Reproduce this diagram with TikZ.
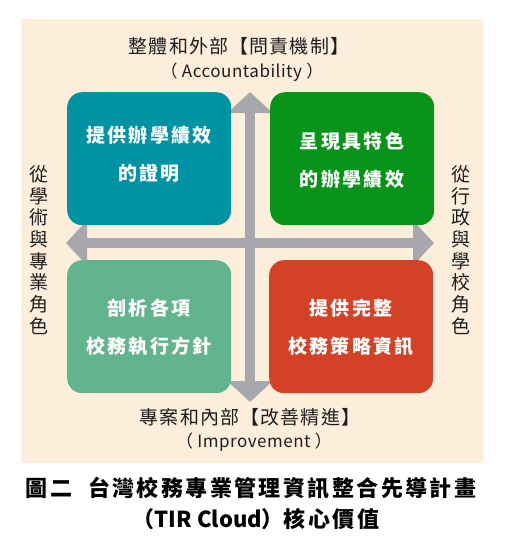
\documentclass[tikz,border=0pt]{standalone}
\usepackage{fontspec}
\setmainfont{Noto Sans CJK TC}
\newfontfamily\cjkb{Noto Sans CJK TC}[LetterSpace=12]
\newfontfamily\cjkl{Noto Sans CJK TC}[LetterSpace=6]
\newfontfamily\cjkc{Noto Sans CJK TC}[LetterSpace=11]
\newfontfamily\cjks{Noto Sans CJK TC}[LetterSpace=3]
\usetikzlibrary{arrows.meta}
\definecolor{bgpeach}{HTML}{FDEEDC}
\definecolor{arrgray}{HTML}{A7A8AC}
\definecolor{cteal}{HTML}{0093A3}
\definecolor{cgreen}{HTML}{079418}
\definecolor{cmint}{HTML}{62B48D}
\definecolor{cred}{HTML}{D34226}
\definecolor{txt}{HTML}{1E1E1E}
\begin{document}
\begin{tikzpicture}[x=1pt,y=-1pt,
  quad/.style={draw=none,rounded corners=15pt,inner sep=0pt,minimum width=164pt,minimum height=133pt,anchor=north west},
  qtext/.style={text=white,font=\cjkb\fontsize{19}{38}\selectfont\bfseries,align=center,inner sep=0pt},
  axis/.style={arrgray,line width=10pt,{Triangle[width=44pt,length=21pt]}-{Triangle[width=44pt,length=21pt]}},
  lab/.style={text=txt,font=\cjkl\fontsize{19}{22}\selectfont,align=center,inner sep=0pt},
  sublab/.style={text=txt,font=\cjks\fontsize{17}{20}\selectfont,inner sep=0pt},
  vlab/.style={text=txt,font=\fontsize{19}{21.7}\selectfont,align=center,inner sep=0pt},
  captext/.style={text=black,font=\cjkc\fontsize{22}{26}\selectfont\bfseries,inner sep=0pt}
]
\useasboundingbox (0,0) rectangle (505,539);
\fill[white] (0,0) rectangle (505,539);
\fill[bgpeach] (21,19) rectangle (483,463);
% axes
\coordinate (vt) at (250,92);
\coordinate (vb) at (250,402);
\coordinate (hl) at (66,243);
\coordinate (hr) at (434,243);
\draw[axis] (vb) -- (vt);
\draw[axis] (hl) -- (hr);
% quadrants
\node[quad,fill=cteal] (tl) at (67,92) {};
\node[quad,fill=cgreen] (tr) at (270,92) {};
\node[quad,fill=cmint] (bl) at (67,260) {};
\node[quad,fill=cred] (br) at (269,260) {};
\node[qtext] (tlt) at (149,154) {提供辦學績效\\的證明};
\node[qtext] (trt) at (352,160) {呈現具特色\\的辦學績效};
\node[qtext] (blt) at (149,327) {剖析各項\\校務執行方針};
\node[qtext] (brt) at (351,327) {提供完整\\校務策略資訊};
% labels
\node[lab] (top) at (239,46) {整體和外部【問責機制】};
\node[sublab] (topen) at (242,72) {（ Accountability ）};
\node[lab] (bot) at (250,417) {專案和內部【改善精進】};
\node[sublab] (boten) at (254,442) {（ Improvement ）};
\node[vlab] (left) at (39,250) {從\\學\\術\\與\\專\\業\\角\\色};
\node[vlab] (right) at (461,250) {從\\行\\政\\與\\學\\校\\角\\色};
% caption
\node[captext] (cap1) at (251,488) {圖二\hspace{16pt}台灣校務專業管理資訊整合先導計畫};
\node[captext] (cap2) at (256,519) {{\normalfont\fontsize{22}{26}\selectfont\bfseries（TIR Cloud）}核心價值};
\end{tikzpicture}
\end{document}
